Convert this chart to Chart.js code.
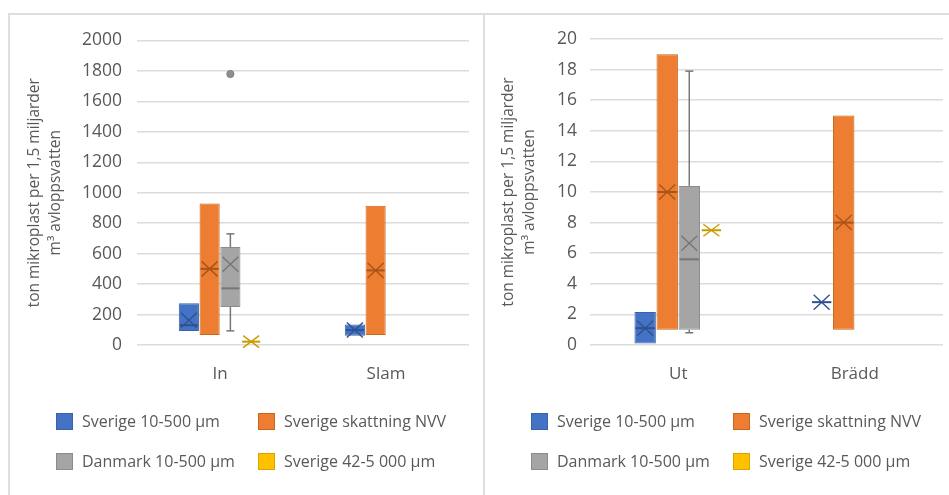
<!DOCTYPE html>
<html><head><meta charset="utf-8">
<script src="https://cdn.jsdelivr.net/npm/chart.js@4.4.0/dist/chart.umd.min.js"></script>
<style>
html,body{margin:0;padding:0;background:#fff;width:949px;height:495px;overflow:hidden;font-family:'Open Sans',sans-serif;}
canvas{position:absolute;}
.lg{position:absolute;height:18px;line-height:18px;font-size:16px;color:#595959;white-space:nowrap;}
.sw{position:absolute;width:17px;height:17px;box-sizing:border-box;border:1px solid;}
</style></head><body>
<div style="position:absolute;left:8px;top:13px;width:473px;height:490px;border-left:2px solid #dedede;border-top:2px solid #dedede;border-right:2px solid #dedede;"></div>
<div style="position:absolute;left:485px;top:13px;width:464px;height:2px;background:#dedede;"></div>
<canvas id="cL" width="474" height="400" style="left:10px;top:15px;"></canvas>
<canvas id="cR" width="463" height="400" style="left:486px;top:15px;"></canvas>
<div id="legends"></div>
<script>
// ---------- shared series info ----------
const seriesNames = ['Sverige 10-500 µm', 'Sverige skattning NVV', 'Danmark 10-500 µm', 'Sverige 42-5 000 µm'];
const seriesFill  = ['#4472C4', '#ED7D31', '#A5A5A5', '#FFC000'];
const seriesEdge  = ['#3A62A8', '#C8651E', '#8C8C8C', '#D9A300'];
const seriesMark  = ['#2F528F', '#A9541A', '#767676', '#C99A00'];
const yTitle = ['ton mikroplast per 1,5 miljarder', 'm³ avloppsvatten'];

// ---------- left panel (In / Slam) ----------
const leftCategories = ['In', 'Slam'];
const leftTicks = [0, 200, 400, 600, 800, 1000, 1200, 1400, 1600, 1800, 2000];
const L_swe10_box    = [[92, 275], [60, 135]];
const L_swe10_median = [130, 98];
const L_swe10_mean   = [163, 98];
const L_nvv_box      = [[65, 930], [65, 915]];
const L_nvv_median   = [500, 490];
const L_nvv_mean     = [500, 490];
const L_dk_box       = [[250, 643], null];
const L_dk_median    = [372, null];
const L_dk_mean      = [530, null];
const L_dk_low       = [93, null];
const L_dk_high      = [730, null];
const L_dk_outliers  = [[1780], []];
const L_swe42_value  = [22, null];

// ---------- right panel (Ut / Brädd) ----------
const rightCategories = ['Ut', 'Brädd'];
const rightTicks = [0, 2, 4, 6, 8, 10, 12, 14, 16, 18, 20];
const R_swe10_box    = [[0.1, 2.15], [2.8, 2.8]];
const R_swe10_median = [1.1, 2.8];
const R_swe10_mean   = [1.1, 2.8];
const R_nvv_box      = [[1, 19], [1, 15]];
const R_nvv_median   = [10, 8];
const R_nvv_mean     = [10, 8];
const R_dk_box       = [[1, 10.4], null];
const R_dk_median    = [5.6, null];
const R_dk_mean      = [6.65, null];
const R_dk_low       = [0.8, null];
const R_dk_high      = [17.9, null];
const R_dk_outliers  = [[], []];
const R_swe42_value  = [7.5, null];

function single(vals) { return vals.map(v => v == null ? null : [v, v]); }

const boxMarks = {
  id: 'boxMarks',
  afterDatasetsDraw(chart) {
    const ctx = chart.ctx;
    const ys = chart.scales.y;
    const seg = (x1, y1, x2, y2) => { ctx.beginPath(); ctx.moveTo(x1, y1); ctx.lineTo(x2, y2); ctx.stroke(); };
    chart.data.datasets.forEach((ds, di) => {
      const meta = chart.getDatasetMeta(di);
      meta.data.forEach((el, i) => {
        const d = ds.data[i];
        if (d == null) return;
        const x = el.x, w = el.width;
        ctx.save();
        ctx.strokeStyle = ds.markColor;
        ctx.lineWidth = 1.5;
        const cap = 4;
        const lo = ds.whiskerLow ? ds.whiskerLow[i] : null;
        const hi = ds.whiskerHigh ? ds.whiskerHigh[i] : null;
        if (hi != null) {
          const a = ys.getPixelForValue(d[1]), b = ys.getPixelForValue(hi);
          seg(x, a, x, b); seg(x - cap, b, x + cap, b);
        }
        if (lo != null) {
          const a = ys.getPixelForValue(d[0]), b = ys.getPixelForValue(lo);
          seg(x, a, x, b); seg(x - cap, b, x + cap, b);
        }
        const med = ds.medians[i];
        if (med != null) {
          ctx.lineWidth = 2;
          const ym = ys.getPixelForValue(med);
          seg(x - w / 2 + 1, ym, x + w / 2 - 1, ym);
        }
        const mean = ds.means[i];
        if (mean != null) {
          ctx.lineWidth = 1.4;
          const yc = ys.getPixelForValue(mean);
          const hw = Math.min(w / 2 - 2, 8), hh = ds.starLike ? 6 : 7.5;
          seg(x - hw, yc - hh, x + hw, yc + hh);
          seg(x - hw, yc + hh, x + hw, yc - hh);
        }
        if (ds.outliers && ds.outliers[i]) {
          ds.outliers[i].forEach(v => {
            ctx.beginPath();
            ctx.arc(x, ys.getPixelForValue(v), 3.6, 0, Math.PI * 2);
            ctx.fillStyle = '#8F8F8F';
            ctx.fill();
            ctx.lineWidth = 1; ctx.strokeStyle = '#7F7F7F'; ctx.stroke();
          });
        }
        ctx.restore();
      });
    });
  }
};

function makeDatasets(p) {
  return [
    { data: p.swe10.box, medians: p.swe10.median, means: p.swe10.mean, s: 0 },
    { data: p.nvv.box, medians: p.nvv.median, means: p.nvv.mean, s: 1 },
    { data: p.dk.box, medians: p.dk.median, means: p.dk.mean, whiskerLow: p.dk.low, whiskerHigh: p.dk.high, outliers: p.dk.outliers, s: 2 },
    { data: single(p.swe42), medians: p.swe42, means: p.swe42, s: 3, starLike: true }
  ].map(ds => Object.assign(ds, {
    label: seriesNames[ds.s],
    backgroundColor: seriesFill[ds.s],
    borderColor: seriesEdge[ds.s],
    markColor: seriesMark[ds.s],
    borderWidth: 1,
    borderSkipped: false,
    categoryPercentage: 0.5,
    barPercentage: 0.97
  }));
}

function makeChart(id, p) {
  const txt = '#595959';
  return new Chart(document.getElementById(id), {
    type: 'bar',
    data: { labels: p.categories, datasets: makeDatasets(p) },
    plugins: [boxMarks],
    options: {
      responsive: false, animation: false, devicePixelRatio: 1,
      layout: { padding: { top: 24, right: p.rightPad, left: 0, bottom: 0 } },
      plugins: { legend: { display: false }, tooltip: { enabled: false } },
      scales: {
        x: {
          grid: { display: false }, border: { display: false },
          ticks: { color: txt, font: { family: 'Open Sans', size: 17 }, padding: 11 },
          afterFit: s => { s.height = 70; }
        },
        y: {
          min: 0, max: p.ticks[p.ticks.length - 1],
          afterBuildTicks: s => { s.ticks = p.ticks.map(v => ({ value: v })); },
          grid: { color: '#dcdcdc', lineWidth: 1.5, drawTicks: false },
          border: { display: false },
          ticks: { color: txt, font: { family: 'Open Sans', size: 17.5 }, padding: p.tickPad, callback: v => String(v) },
          title: { display: true, text: yTitle, color: txt, font: { family: 'Open Sans', size: 15.5, lineHeight: 1.3 }, padding: { top: p.titlePad, bottom: 0 } },
          afterFit: s => { s.width = p.axisWidth; }
        }
      }
    }
  });
}

makeChart('cL', {
  categories: leftCategories, ticks: leftTicks, rightPad: 15, axisWidth: 127, tickPad: 15, titlePad: 15,
  swe10: { box: L_swe10_box, median: L_swe10_median, mean: L_swe10_mean },
  nvv: { box: L_nvv_box, median: L_nvv_median, mean: L_nvv_mean },
  dk: { box: L_dk_box, median: L_dk_median, mean: L_dk_mean, low: L_dk_low, high: L_dk_high, outliers: L_dk_outliers },
  swe42: L_swe42_value
});
makeChart('cR', {
  categories: rightCategories, ticks: rightTicks, rightPad: 6, axisWidth: 104, tickPad: 13, titlePad: 13,
  swe10: { box: R_swe10_box, median: R_swe10_median, mean: R_swe10_mean },
  nvv: { box: R_nvv_box, median: R_nvv_median, mean: R_nvv_mean },
  dk: { box: R_dk_box, median: R_dk_median, mean: R_dk_mean, low: R_dk_low, high: R_dk_high, outliers: R_dk_outliers },
  swe42: R_swe42_value
});

// ---------- HTML legends ----------
const legendOrder = [[0, 1], [2, 3]];
function buildLegend(x0, x1, tx0, tx1) {
  const host = document.getElementById('legends');
  const rowsY = [413, 453];
  legendOrder.forEach((row, r) => {
    row.forEach((s, c) => {
      const sw = document.createElement('div');
      sw.className = 'sw';
      sw.style.left = (c ? x1 : x0) + 'px'; sw.style.top = rowsY[r] + 'px';
      sw.style.background = seriesFill[s]; sw.style.borderColor = seriesEdge[s];
      host.appendChild(sw);
      const t = document.createElement('div');
      t.className = 'lg';
      t.style.left = (c ? tx1 : tx0) + 'px'; t.style.top = (rowsY[r] - 1) + 'px';
      t.textContent = seriesNames[s];
      host.appendChild(t);
    });
  });
}
buildLegend(56, 258, 82, 284);
buildLegend(531, 733, 557, 759);
</script>
</body></html>
